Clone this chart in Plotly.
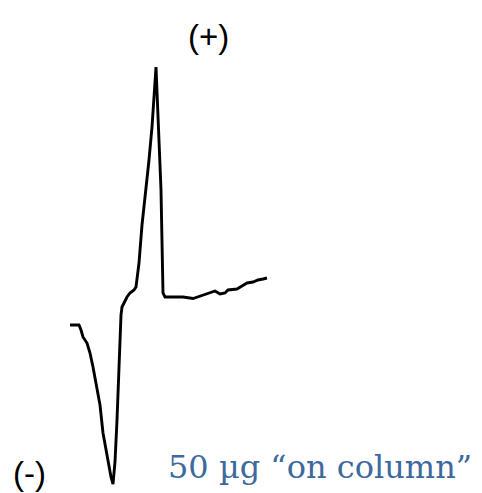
import plotly.graph_objects as go

# Chromatogram-like trace (time and signal in arbitrary units)
time = [0.0, 0.9, 1.1, 1.3, 1.7, 2.0, 2.3, 2.7, 3.0, 3.3, 3.6, 3.8, 4.1, 4.3,
        4.5, 4.7, 4.8, 5.0, 5.1, 5.2, 5.5, 5.7, 6.0, 6.4, 6.6, 6.9, 7.2, 7.6,
        7.9, 8.2, 8.4, 8.6, 9.1, 9.3, 9.5, 11.3, 12.3, 13.0, 14.0, 14.5, 15.0,
        15.5, 15.8, 16.7, 17.2, 17.7, 18.3, 18.8, 19.3, 19.7]
signal = [0.1, 0.1, -0.4, -1.1, -1.7, -2.7, -4.1, -6.1, -7.9, -10.7, -12.4,
          -13.7, -15.1, -15.8, -13.6, -9.4, -6.4, -0.4, 1.1, 1.9, 2.6, 2.9,
          3.3, 3.6, 3.9, 6.3, 10.1, 13.6, 16.6, 19.9, 23.1, 25.9, 13.6, 3.3,
          2.9, 2.9, 2.75, 3.0, 3.3, 3.5, 3.2, 3.3, 3.6, 3.7, 4.0, 4.3, 4.4,
          4.6, 4.7, 4.8]

label_pos = "(+)"
label_neg = "(-)"
label_amount = "50 µg “on column”"

fig = go.Figure()
fig.add_trace(go.Scatter(x=time, y=signal, mode="lines",
                         line=dict(color="black", width=2.9),
                         hoverinfo="skip", showlegend=False))

sans = "Liberation Sans, Arial, sans-serif"
fig.add_annotation(text=label_pos, xref="paper", yref="paper",
                   x=0.415, y=0.943, xanchor="center", yanchor="middle",
                   showarrow=False, font=dict(family=sans, size=33, color="black"))
fig.add_annotation(text=label_neg, xref="paper", yref="paper",
                   x=0.0436, y=0.0548, xanchor="center", yanchor="middle",
                   showarrow=False, font=dict(family=sans, size=33, color="black"))
fig.add_annotation(text=label_amount, xref="paper", yref="paper",
                   x=0.647, y=0.069, xanchor="center", yanchor="middle",
                   showarrow=False,
                   font=dict(family="DejaVu Serif, Liberation Serif, serif",
                             size=32, color="#3d6a9e"))

fig.update_layout(
    width=482, height=493,
    margin=dict(l=0, r=0, t=0, b=0),
    paper_bgcolor="white", plot_bgcolor="white",
    xaxis=dict(range=[-6.2, 42.0], visible=False, fixedrange=True),
    yaxis=dict(range=[-17.5, 31.8], visible=False, fixedrange=True),
)

fig.write_html("out.html")
